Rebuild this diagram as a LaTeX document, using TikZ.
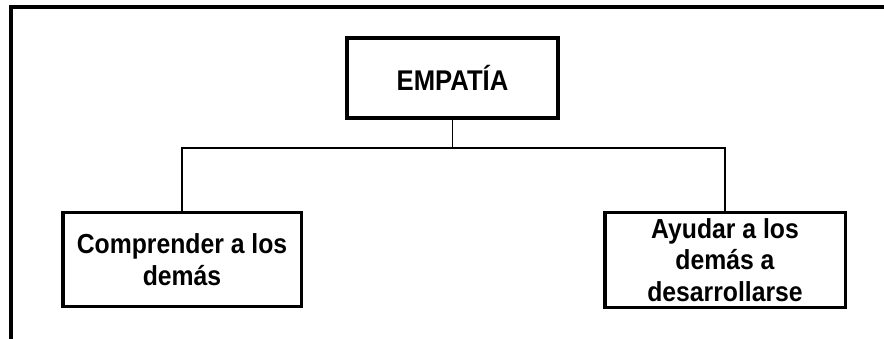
\documentclass[tikz,border=0pt]{standalone}
\usepackage{fontspec}
\setmainfont{Liberation Sans}
\newfontfamily\labelfont[FakeStretch=0.9]{Liberation Sans Bold}
\begin{document}
\begin{tikzpicture}[x=1pt,y=-1pt,
  boxstyle/.style={draw=black, line width=3.5pt, inner sep=0pt, align=center,
    font=\labelfont\fontsize{27.5}{31.5}\selectfont},
  conn/.style={draw=black, line width=1.3pt}]
\useasboundingbox (0,0) rectangle (884,339);
% outer frame
\draw[line width=4pt] (11,339) -- (11,7) -- (884,7);
% nodes
\node[boxstyle, minimum width=211pt, minimum height=80pt,
  font=\labelfont\fontsize{28.5}{32}\selectfont] (emp) at (452.5,78) {EMPATÍA};
\node[boxstyle, minimum width=238.5pt, minimum height=93.5pt] (comp) at (182,259.5) {Comprender a los\\demás};
\node[boxstyle, minimum width=240.5pt, minimum height=95pt] (ayud) at (725,260) {Ayudar a los\\demás a\\desarrollarse};
\coordinate (j) at (452.5,148);
% connectors
\draw[conn] (emp.south) -- (j);
\draw[conn] (comp.north) |- (j);
\draw[conn] (ayud.north) |- (j);
\end{tikzpicture}
\end{document}
